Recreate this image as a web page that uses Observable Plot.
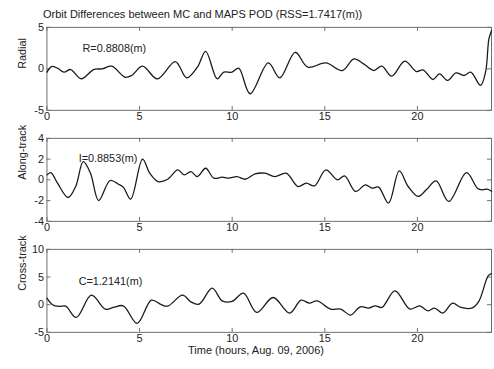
<!DOCTYPE html>
<html>
<head>
<meta charset="utf-8">
<script src="https://cdn.jsdelivr.net/npm/d3@7"></script>
<script src="https://cdn.jsdelivr.net/npm/@observablehq/plot@0.6"></script>
<style>
html, body { margin: 0; padding: 0; overflow: hidden; background: #fff; }
#root { position: relative; width: 494px; height: 369px; overflow: hidden; font-family: "Liberation Sans", Arial, sans-serif; color: #222; }
.pan { position: absolute; left: 0; }
.txt { position: absolute; font-size: 11px; line-height: 14px; white-space: nowrap; color: #222; }
</style>
</head>
<body>
<div id="root"></div>
<script>
// ---- data ----
const titleText = "Orbit Differences between MC and MAPS POD (RSS=1.7417(m))";
const xLabelText = "Time (hours, Aug. 09, 2006)";
const xTicks = [0, 5, 10, 15, 20];

const radialT = [0,0.25,0.57,0.92,1.28,1.85,2.52,2.97,3.5,4.21,4.57,5.16,5.96,6.93,7.54,8.12,8.57,9.19,9.55,9.99,10.35,10.97,11.95,12.57,13.4,14.08,15.06,15.95,16.57,17.1,17.64,18.08,18.61,19.32,19.95,20.3,20.84,21.19,21.64,22.08,22.52,22.88,23.41,23.68,23.86,24];
const radialV = [-0.4,0.28,0.08,-0.4,-0.08,-1.2,-0.08,0,0.32,-1.0,-0.8,0.32,-1.2,0.88,-1.08,0.2,2.12,-1.2,-0.4,-0.4,0.08,-3.0,0.72,-1.08,2.0,0.2,0.72,-0.2,1.2,0.6,-0.2,0.32,-0.88,0.92,-0.32,-0.12,-1.28,-0.6,-1.4,-0.48,-0.8,-0.4,-2.0,-0.4,3.6,4.6];
const radialTicks = [-5, 0, 5];

const alongT = [0,0.21,0.57,1.14,1.55,1.96,2.35,2.79,3.41,3.86,4.12,4.52,5.16,5.55,5.99,6.52,7.06,7.41,7.77,8.12,8.57,9.01,9.46,9.81,10.26,10.7,11.24,11.77,12.3,12.92,13.55,14.0,14.44,15.06,15.68,16.07,16.66,17.19,17.55,17.9,18.44,19.02,19.5,20.04,20.48,21.01,21.69,22.65,23.24,23.5,23.77,24];
const alongV = [0.48,0.7,-0.32,-1.7,-0.64,1.76,0.64,-2.0,-0.06,-0.42,-0.7,-1.86,2.0,0.64,-0.16,0.06,0.96,0.48,0.8,0.32,1.12,0.16,0.26,0.16,0.32,0.06,0.58,0.64,0.32,0.64,-0.64,-0.32,-0.58,0.96,0.0,0.38,-1.12,-0.48,-0.8,-0.7,-2.24,0.86,-0.64,-1.6,-0.96,-0.1,-2.08,0.7,-0.8,-0.96,-0.9,-1.1];
const alongTicks = [-4, -2, 0, 2, 4];

const crossT = [0,0.3,0.66,1.01,1.58,2.4,3.15,3.59,4.12,4.87,5.64,6.17,6.52,7.32,7.77,8.21,8.92,9.46,9.99,10.61,11.32,12.21,13.1,13.72,14.17,14.58,15.32,15.86,16.39,16.92,17.37,17.72,18.08,18.79,19.59,20.12,20.57,20.92,21.37,21.9,22.35,22.97,23.33,23.82,24];
const crossV = [1.18,0,-0.32,-0.26,-2.3,1.72,-0.8,-0.5,-0.2,-3.38,0.82,0,-0.26,1.72,0.52,0.1,2.98,0.7,0.58,2.08,-1.4,1.3,-1.52,0.82,0.28,0.7,-0.8,-0.8,-1.88,-0.38,-0.62,-0.2,-0.5,2.5,-0.8,-0.2,-1.1,-0.62,-1.52,0.28,-0.5,-0.56,0.7,5.2,5.6];
const crossTicks = [-5, 0, 5, 10];

const panelLabels = ["Radial", "Along-track", "Cross-track"];
const noteTexts = ["R=0.8808(m)", "I=0.8853(m)", "C=1.2141(m)"];
const noteT = [1.92, 1.71, 1.71];
const noteV = [2.5, 2.1, 4.2];

// ---- drawing ----
const root = document.getElementById("root");
const frameColor = "#6e6e6e";
const innerH = 84, innerW = 450;
const fmt = d => String(d);

function panel(t, v, yTicks, label, note, nt, nv, top) {
  const data = t.map((d, i) => ({t: d, v: v[i]}));
  const yDomain = [yTicks[0], yTicks[yTicks.length - 1]];
  const chart = Plot.plot({
    width: 500, height: 116,
    marginTop: 10, marginBottom: 22, marginLeft: 47, marginRight: 3,
    x: {domain: [0, 24]},
    y: {domain: yDomain},
    style: {fontFamily: '"Liberation Sans", Arial, sans-serif', fontSize: "11px", color: "#222", background: "transparent", overflow: "visible"},
    marks: [
      Plot.frame({stroke: frameColor}),
      Plot.ruleX(xTicks, {stroke: frameColor, insetBottom: innerH - 4}),
      Plot.ruleX(xTicks, {stroke: frameColor, insetTop: innerH - 4}),
      Plot.ruleY(yTicks, {stroke: frameColor, insetRight: innerW - 4}),
      Plot.ruleY(yTicks, {stroke: frameColor, insetLeft: innerW - 4}),
      Plot.axisX({ticks: xTicks, tickSize: 0, tickPadding: 2, tickFormat: fmt, label: null}),
      Plot.axisY({ticks: yTicks, tickSize: 0, tickPadding: 3, tickFormat: fmt, label: null}),
      Plot.line(data, {x: "t", y: "v", curve: "catmull-rom", stroke: "#1a1a1a", strokeWidth: 1.3}),
      Plot.text([label], {frameAnchor: "left", dx: -25, rotate: -90, fontSize: 11, fill: "#222"}),
      Plot.text([note], {x: () => nt, y: () => nv, text: d => d, textAnchor: "start", fontSize: 11, fill: "#222"})
    ]
  });
  chart.classList.add("pan");
  chart.style.top = top + "px";
  root.appendChild(chart);
}

panel(radialT, radialV, radialTicks, panelLabels[0], noteTexts[0], noteT[0], noteV[0], 17);
panel(alongT, alongV, alongTicks, panelLabels[1], noteTexts[1], noteT[1], noteV[1], 128);
panel(crossT, crossV, crossTicks, panelLabels[2], noteTexts[2], noteT[2], noteV[2], 239);

const title = document.createElement("div");
title.className = "txt";
title.textContent = titleText;
title.style.left = "43px";
title.style.top = "7px";
root.appendChild(title);

const xl = document.createElement("div");
xl.className = "txt";
xl.textContent = xLabelText;
xl.style.left = "256px";
xl.style.top = "343px";
xl.style.transform = "translateX(-50%)";
root.appendChild(xl);
</script>
</body>
</html>
